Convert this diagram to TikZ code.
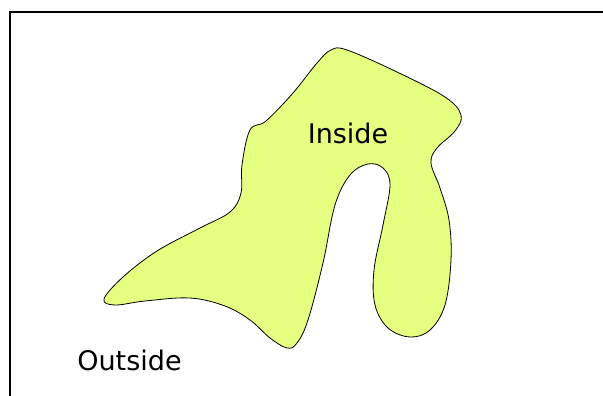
\documentclass[tikz,border=0pt]{standalone}
\usepackage{fontspec}
\setmainfont{DejaVu Sans}
\usepackage{tikz}
\usetikzlibrary{positioning}
\definecolor{ink}{HTML}{000000}
\definecolor{blobfill}{HTML}{E5FF80}

\begin{document}
\begin{tikzpicture}[x=1pt,y=-1pt,
  regiontext/.style={font=\fontsize{27}{30}\selectfont, inner sep=0pt, text=ink}]
\useasboundingbox (0,0) rectangle (603,396);
\draw[line width=2pt, color=ink] (9.5,396) |- (603,12.5);
\filldraw[fill=blobfill, draw=ink, line width=0.8pt]
  plot[smooth cycle, tension=0.6] coordinates {
  (104,299) (123,277) (157,251) (200,228) (230,212) (241,193) (242,165)
  (250,130) (266,121) (293,93) (317,63) (331,50) (347,50) (397,72)
  (445,97) (461,115) (455,131) (437,148) (431,163) (440,188) (449,220)
  (451,260) (445,305) (430,330) (410,337) (388,328) (375,305) (374,270)
  (383,225) (390,185) (383,168) (368,164) (350,175) (335,205) (323,263)
  (308,320) (297,343) (287,348) (270,338) (250,320) (225,306) (190,298)
  (145,301) (115,305)};
\node[regiontext] (inside) at (348,133) {Inside};
\node[regiontext] (outside) at (129.5,360) {Outside};
\end{tikzpicture}
\end{document}
